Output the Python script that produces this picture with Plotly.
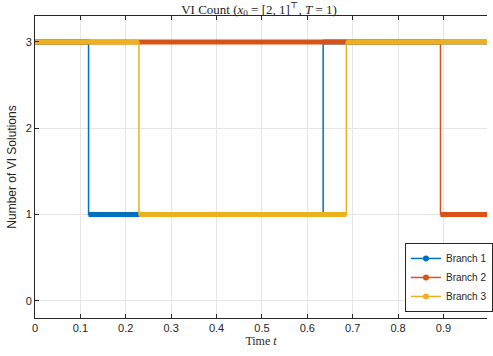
import plotly.graph_objects as go

# Data: step paths (time, number of VI solutions)
t_b1 = [0.0, 0.118, 0.118, 0.635, 0.635, 1.0]
n_b1 = [3, 3, 1, 1, 3, 3]
t_b2 = [0.0, 0.8935, 0.8935, 1.0]
n_b2 = [3, 3, 1, 1]
t_b3 = [0.0, 0.229, 0.229, 0.686, 0.686, 1.0]
n_b3 = [3, 3, 1, 1, 3, 3]

names = ["Branch 1", "Branch 2", "Branch 3"]
colors = ["#0072BD", "#D95319", "#EDB120"]
x_ticks = [0, 0.1, 0.2, 0.3, 0.4, 0.5, 0.6, 0.7, 0.8, 0.9]
x_tick_labels = ["0", "0.1", "0.2", "0.3", "0.4", "0.5", "0.6", "0.7", "0.8", "0.9"]
y_ticks = [0, 1, 2, 3]


def horizontal_parts(ts, ns):
    xs, ys = [], []
    for i in range(len(ts) - 1):
        if ns[i] == ns[i + 1]:
            xs += [ts[i], ts[i + 1], None]
            ys += [ns[i], ns[i + 1], None]
    return xs, ys


fig = go.Figure()
for ts, ns, name, c in zip([t_b1, t_b2, t_b3], [n_b1, n_b2, n_b3], names, colors):
    fig.add_trace(go.Scatter(x=ts, y=ns, mode="lines", line=dict(color=c, width=1.5),
                             showlegend=False, hoverinfo="skip"))
    hx, hy = horizontal_parts(ts, ns)
    fig.add_trace(go.Scatter(x=hx, y=hy, mode="lines", line=dict(color=c, width=5),
                             showlegend=False, connectgaps=False))
for name, c in zip(names, colors):
    fig.add_trace(go.Scatter(x=[None], y=[None], mode="lines+markers", name=name,
                             line=dict(color=c, width=1.5), marker=dict(color=c, size=6)))

axis_common = dict(showgrid=True, gridcolor="#E6E6E6", gridwidth=1, zeroline=False,
                   showline=True, linecolor="#262626", linewidth=1, ticks="inside",
                   ticklen=4, tickcolor="#262626", automargin=False,
                   tickfont=dict(family="Liberation Sans, Arial", size=11, color="#262626"))

fig.update_layout(
    width=493, height=356,
    margin=dict(l=35, r=0, t=16, b=38),
    paper_bgcolor="white", plot_bgcolor="white",
    title=dict(text="VI Count (<i>x</i><sub>0</sub> = [2, 1]<sup>⊤</sup>, <i>T</i> = 1)",
               x=259 / 493, xanchor="center", yref="container", y=1 - 9 / 356, yanchor="middle",
               font=dict(family="Liberation Serif, DejaVu Serif, serif", size=13, color="#262626")),
    xaxis=dict(range=[0, 0.996], tickvals=x_ticks, ticktext=x_tick_labels, mirror="ticks",
               title=dict(text="Time <i>t</i>", standoff=3,
                          font=dict(family="Liberation Serif, DejaVu Serif, serif", size=12, color="#262626")),
               **axis_common),
    yaxis=dict(range=[-0.2, 3.3], tickvals=y_ticks, mirror=False,
               title=dict(text="Number of VI Solutions", standoff=6,
                          font=dict(family="Liberation Sans, Arial", size=12, color="#262626")),
               **axis_common),
    legend=dict(x=(410 - 35) / 458, xanchor="left", y=0.02, yanchor="bottom",
                bgcolor="white", bordercolor="#262626", borderwidth=1,
                font=dict(family="Liberation Sans, Arial", size=10, color="#262626"),
                tracegroupgap=0, itemwidth=30),
)

fig.write_html("out.html", config={"displayModeBar": False},
               post_script="document.body.style.margin='0';document.body.style.overflow='hidden';")
